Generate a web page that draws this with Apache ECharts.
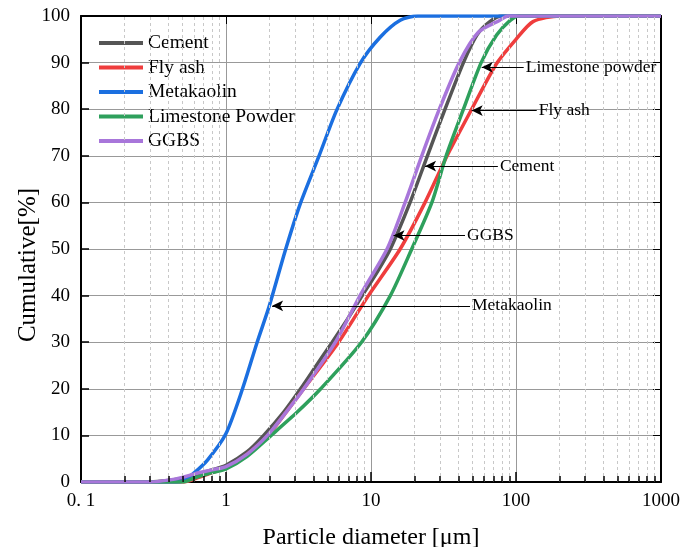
<!DOCTYPE html>
<html>
<head>
<meta charset="utf-8">
<script src="https://cdn.jsdelivr.net/npm/echarts@6/dist/echarts.min.js"></script>
<style>
  html, body { margin: 0; padding: 0; background: #fff; }
  #main { width: 681px; height: 547px; }
</style>
</head>
<body>
<div id="main"></div>
<script>
// 粒径分布数据
var cementX = [0.1, 0.3, 0.4, 0.5, 0.6, 0.8, 1, 1.4, 1.82, 2.5, 3.27, 4.2, 5.4, 6.9, 8.7, 11, 13.6, 18.6, 24.5, 32.4, 43.4, 54, 66, 80, 1000];
var cementY = [0, 0, 0.3, 0.8, 1.5, 2.6, 3.6, 6.5, 10, 15, 20, 25, 30, 35, 40, 45, 50, 60, 70, 80, 90, 96, 98.8, 100, 100];

var flyAshX = [0.1, 0.5, 0.6, 0.8, 1, 1.4, 1.95, 2.6, 3.44, 5.98, 9.6, 15.9, 23.6, 33.5, 49.5, 73.5, 100, 131, 200, 1000];
var flyAshY = [0, 0, 0.6, 2.0, 3.0, 6, 10, 15, 20, 30, 40, 50, 60, 70, 80, 89.8, 95, 98.8, 100, 100];

var metaX = [0.1, 0.45, 0.51, 0.6, 0.745, 1, 1.3, 1.64, 1.98, 2.57, 3.26, 4.36, 5.8, 8.4, 11.6, 15.9, 21, 1000];
var metaY = [0, 0, 0.3, 1.9, 4.7, 10.4, 20, 30, 37.6, 49.8, 59.8, 69.8, 79.8, 89.8, 95.5, 99.1, 100, 100];

var limeX = [0.1, 0.5, 0.6, 0.8, 1, 1.4, 2.05, 3.1, 4.5, 8.6, 13.6, 19.1, 26.3, 33, 43.4, 57.5, 73.5, 90.8, 105, 1000];
var limeY = [0, 0, 0.8, 2.0, 2.8, 5.5, 10, 15, 20, 30, 40, 50, 60, 70, 80, 90, 95.9, 99, 100, 100];

var ggbsX = [0.1, 0.3, 0.4, 0.5, 0.6, 0.8, 1, 1.4, 1.93, 2.6, 3.44, 5.68, 8.4, 12.9, 17.2, 22.4, 29.6, 40.6, 55, 77.5, 88, 1000];
var ggbsY = [0, 0, 0.4, 1.0, 1.7, 2.6, 3.3, 6, 10, 15, 20, 30, 40, 50, 60, 70, 80, 90, 96.5, 99.1, 100, 100];

var yTicks = [0, 10, 20, 30, 40, 50, 60, 70, 80, 90, 100];
var minorX = [0.2, 0.3, 0.4, 0.5, 0.6, 0.7, 0.8, 0.9, 2, 3, 4, 5, 6, 7, 8, 9, 20, 30, 40, 50, 60, 70, 80, 90, 200, 300, 400, 500, 600, 700, 800, 900];

// 标注: [文字, 起点x, 箭头x, y]
var noteText = ['Limestone powder', 'Fly ash', 'Cement', 'GGBS', 'Metakaolin'];
var noteFrom = [113, 139, 75, 44.5, 48.2];
var noteTo = [58, 49.5, 23.6, 14.3, 2.08];
var noteY = [89, 79.7, 67.8, 52.9, 37.8];

var FONT = 'Liberation Serif';

function pairs(xs, ys) {
    var out = [];
    for (var i = 0; i < xs.length; i++) out.push([xs[i], ys[i]]);
    return out;
}

function curve(name, color, xs, ys) {
    return {
        name: name,
        type: 'line',
        data: pairs(xs, ys),
        smooth: 0.25,
        showSymbol: false,
        symbol: 'none',
        clip: true,
        lineStyle: { color: color, width: 3.5 },
        itemStyle: { color: color },
        z: 3
    };
}

var minorLines = minorX.map(function (v) { return { xAxis: v }; });
var minorTicks = minorX.map(function (v) {
    return [{ coord: [v, 0] }, { coord: [v, 1.3] }];
});
var notes = noteText.map(function (t, i) {
    return [{ name: t, coord: [noteFrom[i], noteY[i]] }, { coord: [noteTo[i], noteY[i]] }];
});

var myChart = echarts.init(document.getElementById('main'));
var option = {
    backgroundColor: '#fff',
    animation: false,
    textStyle: { fontFamily: FONT },
    grid: { left: 81, right: 20, top: 16, bottom: 65, containLabel: false, outerBoundsMode: 'none' },
    legend: {
        orient: 'vertical',
        left: 94,
        top: 28,
        icon: 'rect',
        itemWidth: 44,
        itemHeight: 4,
        itemGap: 4.5,
        textStyle: { fontFamily: FONT, fontSize: 19.5, color: '#000' },
        data: ['Cement', 'Fly ash', 'Metakaolin', 'Limestone Powder', 'GGBS']
    },
    xAxis: [
        {
            type: 'log',
            logBase: 10,
            min: 0.1,
            max: 1000,
            name: 'Particle diameter [μm]',
            nameLocation: 'middle',
            nameGap: 44,
            nameMoveOverlap: false,
            nameTextStyle: { fontFamily: FONT, fontSize: 24, color: '#000' },
            axisLine: { onZero: false, lineStyle: { color: '#000', width: 2 } },
            axisTick: { inside: true, length: 10, lineStyle: { color: '#000', width: 1.5 } },
            axisLabel: {
                margin: 10,
                fontFamily: FONT,
                fontSize: 19,
                color: '#000',
                formatter: function (v) { return v === 0.1 ? '0. 1' : String(v); }
            },
            splitLine: { show: true, lineStyle: { color: '#999', width: 1 } }
        },
        {
            type: 'log',
            logBase: 10,
            min: 0.1,
            max: 1000,
            position: 'top',
            axisLine: { onZero: false, lineStyle: { color: '#000', width: 2 } },
            axisTick: { inside: true, length: 8, lineStyle: { color: '#000' } },
            axisLabel: { show: false },
            splitLine: { show: false }
        }
    ],
    yAxis: [
        {
            type: 'value',
            min: 0,
            max: 100,
            interval: 10,
            name: 'Cumulative[%]',
            nameLocation: 'middle',
            nameGap: 40,
            nameMoveOverlap: false,
            nameTextStyle: { fontFamily: FONT, fontSize: 25, color: '#000', padding: [0, 32, 0, 0] },
            axisLine: { show: true, lineStyle: { color: '#000', width: 2 } },
            axisTick: { show: true, inside: true, length: 8, lineStyle: { color: '#000', width: 1.5 } },
            axisLabel: {
                margin: 11,
                fontFamily: FONT,
                fontSize: 19,
                color: '#000',
                formatter: function (v) { return yTicks.indexOf(v) >= 0 ? String(v) : ''; }
            },
            splitLine: { show: true, lineStyle: { color: '#999', width: 1 } }
        },
        {
            type: 'value',
            min: 0,
            max: 100,
            interval: 10,
            position: 'right',
            axisLine: { show: true, lineStyle: { color: '#000', width: 2 } },
            axisTick: { show: true, inside: true, length: 8, lineStyle: { color: '#000' } },
            axisLabel: { show: false },
            splitLine: { show: false }
        }
    ],
    series: [
        {
            name: 'minor',
            type: 'line',
            data: [],
            silent: true,
            markLine: {
                silent: true,
                symbol: 'none',
                label: { show: false },
                lineStyle: { color: '#c8c8c8', type: [3, 3], width: 1 },
                data: minorLines
            },
            z: 1
        },
        {
            name: 'minorTick',
            type: 'line',
            data: [],
            silent: true,
            markLine: {
                silent: true,
                symbol: 'none',
                label: { show: false },
                lineStyle: { color: '#000', type: 'solid', width: 1.5 },
                data: minorTicks
            },
            z: 5
        },
        curve('Cement', '#555555', cementX, cementY),
        curve('Fly ash', '#ef3d3d', flyAshX, flyAshY),
        curve('Metakaolin', '#1b6fe0', metaX, metaY),
        curve('Limestone Powder', '#2ea05c', limeX, limeY),
        curve('GGBS', '#a876da', ggbsX, ggbsY),
        {
            name: 'notes',
            type: 'line',
            data: [],
            silent: true,
            markLine: {
                silent: true,
                symbol: ['none', 'arrow'],
                symbolSize: [8, 11],
                lineStyle: { color: '#000', type: 'solid', width: 1 },
                label: {
                    show: true,
                    position: 'start',
                    distance: 2,
                    formatter: '{b}',
                    fontFamily: FONT,
                    fontSize: 17.5,
                    color: '#000'
                },
                data: notes
            },
            z: 6
        }
    ]
};
myChart.setOption(option);
</script>
</body>
</html>
